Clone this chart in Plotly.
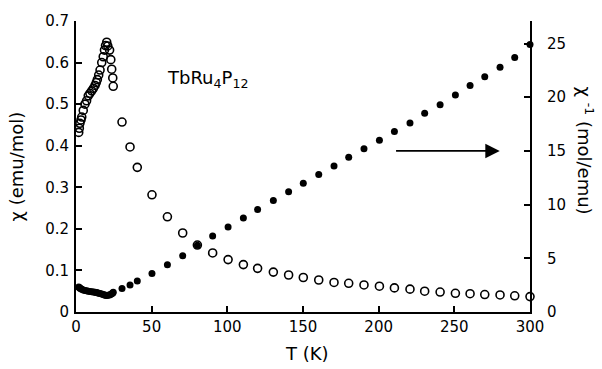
import plotly.graph_objects as go

# Temperature (K) for the susceptibility data
T = [1.8, 2.2, 2.6, 3.3, 3.8, 4.8, 5.9, 7.0, 8.1, 9.2, 10.4, 11.5, 12.6, 13.4, 14.1,
     15.0, 15.9, 17.0, 18.0, 18.8, 19.5, 20.3, 21.0, 22.2, 23.0, 23.6, 24.3, 24.6,
     30.4, 35.7, 40.5, 50.2, 60.4, 70.5, 80.2, 90.3, 100.5, 110.6, 120.0,
     130.4, 140.5, 150.2, 160.4, 170.5, 180.2, 190.3, 200.5, 210.4,
     220.7, 230.4, 240.6, 250.7, 260.4, 270.1, 280.2, 289.9, 300.0]

# chi (emu/mol), open circles, left axis
chi = [0.432, 0.442, 0.454, 0.462, 0.469, 0.485, 0.500, 0.508, 0.520, 0.526, 0.532, 0.538,
       0.545, 0.552, 0.559, 0.570, 0.582, 0.600, 0.614, 0.630, 0.641, 0.649, 0.640, 0.630,
       0.607, 0.584, 0.563, 0.543,
       0.457, 0.397, 0.348, 0.282, 0.229, 0.190, 0.161, 0.142, 0.126, 0.114, 0.105,
       0.096, 0.089, 0.083, 0.077, 0.071, 0.069, 0.065, 0.062, 0.058,
       0.055, 0.050, 0.048, 0.045, 0.044, 0.042, 0.041, 0.039, 0.037]

# chi^-1 (mol/emu), filled circles, right axis
chi_inv = [2.32, 2.27, 2.21, 2.16, 2.13, 2.06, 2.00, 1.97, 1.93, 1.90, 1.88, 1.86,
           1.84, 1.81, 1.79, 1.75, 1.72, 1.67, 1.63, 1.59, 1.56, 1.54, 1.56, 1.59,
           1.65, 1.71, 1.78, 1.84,
           2.18, 2.51, 2.88, 3.58, 4.40, 5.25, 6.22, 7.07, 7.91, 8.76, 9.54,
           10.39, 11.2, 12.0, 12.8, 13.6, 14.4, 15.2, 16.0, 16.8,
           17.6, 18.5, 19.3, 20.2, 21.1, 21.9, 22.8, 23.7, 24.9]

x_ticks = [0, 50, 100, 150, 200, 250, 300]
left_ticks = [0, 0.1, 0.2, 0.3, 0.4, 0.5, 0.6, 0.7]
left_tick_text = ["0", "0.1", "0.2", "0.3", "0.4", "0.5", "0.6", "0.7"]
right_ticks = [0, 5, 10, 15, 20, 25]

FONT = "DejaVu Sans"

fig = go.Figure()
fig.add_trace(go.Scatter(
    x=T, y=chi_inv, mode="markers", yaxis="y2", cliponaxis=False,
    marker=dict(symbol="circle", size=7, color="black"),
    showlegend=False))
fig.add_trace(go.Scatter(
    x=T, y=chi, mode="markers", yaxis="y", cliponaxis=False,
    marker=dict(symbol="circle-open", size=8, color="black", line=dict(width=1.6, color="black")),
    showlegend=False))

axis_common = dict(showline=True, linecolor="black", linewidth=2, ticks="inside",
                   ticklen=6, tickwidth=1.5, tickcolor="black", showgrid=False,
                   zeroline=False, tickfont=dict(family=FONT, size=15, color="black"))

fig.update_layout(
    width=602, height=369,
    margin=dict(l=76, r=72, t=13, b=57),
    paper_bgcolor="white", plot_bgcolor="white",
    font=dict(family=FONT, color="black"),
    xaxis=dict(range=[0, 300], tickvals=x_ticks, **axis_common),
    yaxis=dict(range=[0, 0.7], tickvals=left_ticks, ticktext=left_tick_text,
               ticklabelstandoff=2, **axis_common),
    yaxis2=dict(range=[0, 27.1], tickvals=right_ticks, overlaying="y", side="right",
                anchor="x", ticklabelstandoff=12, **axis_common),
    annotations=[
        dict(text="T (K)", xref="paper", yref="paper", x=0.509, y=-0.144,
             xanchor="center", yanchor="middle",
             showarrow=False, font=dict(family=FONT, size=18)),
        dict(text="χ (emu/mol)", xref="paper", yref="paper", x=-0.13, y=0.5,
             xanchor="center", yanchor="middle",
             textangle=-90, showarrow=False, font=dict(family=FONT, size=18)),
        dict(text="χ <sup>-1</sup> (mol/emu)", xref="paper", yref="paper", x=1.121, y=0.555,
             xanchor="center", yanchor="middle",
             textangle=90, showarrow=False, font=dict(family=FONT, size=18)),
        dict(text="TbRu<sub>4</sub>P<sub>12</sub>", x=86.6, y=0.56, xref="x", yref="y",
             showarrow=False, font=dict(family=FONT, size=18)),
        dict(x=280, y=15, xref="x", yref="y2", ax=210.5, ay=15, axref="x", ayref="y2",
             text="", showarrow=True, arrowhead=2, arrowsize=1.6, arrowwidth=1.8,
             arrowcolor="black"),
    ],
)

fig.write_html("out.html")
